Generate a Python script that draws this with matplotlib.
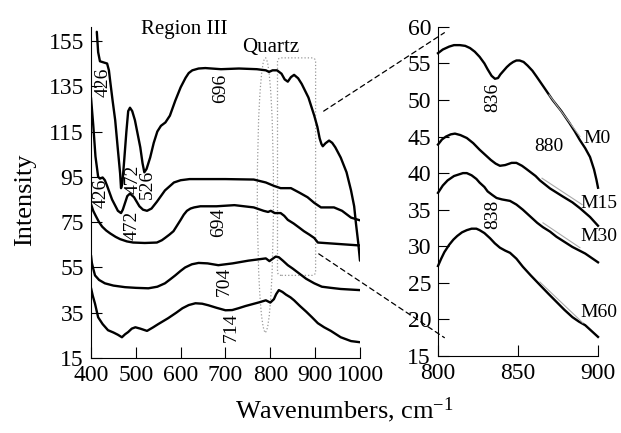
import matplotlib
matplotlib.use("Agg")
import matplotlib.pyplot as plt
from matplotlib.patches import Ellipse, FancyBboxPatch, ConnectionPatch

plt.rcParams['font.family'] = ['Liberation Serif', 'DejaVu Serif']

# ---- data: left panel (400-1000 cm-1) ----
m0_x = [413, 416, 420, 428, 436, 440, 443, 448, 454, 460, 465, 467, 470, 474, 479, 483,
        487, 492, 498, 504, 510, 515, 519, 524, 532, 540, 548, 556, 566, 576, 588, 600,
        611, 618, 626, 640, 655, 690, 730, 770, 790, 797, 805, 815, 825, 832, 839, 846,
        853, 862, 870, 885, 898, 905, 910, 914, 917, 923, 931, 938, 945, 957, 970, 980,
        987, 991, 996, 1000]
m0_y = [159, 150, 146, 145.5, 145, 142, 137, 129, 120, 107, 96.5, 90, 92, 102, 115, 124,
        125.5, 124, 120, 114, 108, 101, 97, 98.5, 103.5, 110, 115, 117.5, 119, 122, 128.6, 134.5,
        138.7, 140.8, 142, 142.8, 143, 142.5, 142.8, 142.5, 142, 141.3, 142, 142, 140.5, 138, 137, 139,
        140, 138.5, 136, 130, 122, 117, 112, 109.5, 108.5, 109.8, 111, 110, 108, 103.5, 97, 89,
        82, 74.4, 66, 58]

m15_x = [400, 405, 410, 416, 420, 426, 431, 436, 447, 460, 467, 471, 476, 481, 487, 496,
         508, 516, 525, 535, 547, 565, 585, 600, 620, 640, 700, 763, 790, 808, 823, 846,
         865, 883, 898, 913, 942, 960, 980, 1000]
m15_y = [130, 118, 104, 95, 94.2, 94.7, 93.5, 91, 85, 80, 79, 80.5, 83.5, 86.5, 87.6, 86,
         82, 80.5, 80, 81, 84, 89, 92.5, 93.5, 94, 94, 94, 93.8, 92.5, 91, 90, 90,
         88, 86, 83.5, 81.5, 81.5, 80, 77, 75.8]

m30_x = [400, 405, 410, 418, 425, 434, 443, 455, 465, 480, 494, 520, 547, 558, 565, 575,
         584, 592, 600, 607, 614, 622, 630, 644, 680, 720, 763, 785, 795, 801, 810, 823,
         831, 839, 852, 865, 875, 887, 898, 906, 942, 1000]
m30_y = [83, 80, 78, 75, 73, 71.3, 70, 68.5, 67.5, 66.5, 66, 65.8, 66, 67, 68, 69.5,
         71, 73.5, 76, 78.3, 80, 81, 81.5, 82, 82, 82.5, 81.5, 80, 79.5, 80, 79, 79,
         77.8, 76, 74.4, 72.5, 71, 69.5, 68, 66, 65.5, 64.7]

m45_x = [400, 402, 405, 409, 418, 431, 450, 476, 500, 528, 548, 565, 577, 588, 600, 610,
         625, 640, 660, 684, 716, 751, 790, 798, 805, 812, 819, 828, 839, 850, 860, 870,
         880, 898, 915, 935, 957, 1000]
m45_y = [60.4, 57, 54.5, 51.5, 49.5, 48, 47, 46.3, 46, 45.8, 46.5, 48, 49.8, 51.5, 53.5, 55,
         56.4, 57, 56.8, 56, 56.8, 58, 59, 57.8, 58.8, 59.8, 59.5, 58, 56, 54.5, 53, 51.5,
         50, 48, 46.5, 46, 45.5, 45]

m60_x = [400, 404, 409, 416, 426, 438, 450, 460, 469, 476, 483, 491, 499, 510, 525, 538,
         550, 572, 590, 604, 618, 633, 648, 662, 680, 700, 715, 729, 745, 760, 775, 790,
         800, 808, 813, 819, 827, 835, 845, 853, 866, 880, 893, 906, 920, 935, 957, 980, 1000]
m60_y = [46, 42.5, 39, 33, 30, 27.3, 26.3, 25.3, 24.2, 25.5, 26.5, 28, 28.6, 28, 27, 28.5,
         30, 32.6, 35, 37, 38.4, 39.2, 39, 38.3, 37.2, 36.1, 36.2, 37, 38, 38.8, 39.6, 40.5,
         39.5, 41, 43.2, 45, 44.2, 43, 41.8, 40.5, 38, 35.5, 33, 30.4, 28.6, 27, 24.2, 22.5, 22]

left_labels = ["426", "696", "426", "472", "526", "472", "694", "704", "714"]
left_lab_x = [427, 689, 422, 494, 525, 492, 684, 698, 713]
left_lab_y = [136.5, 134, 87.6, 94, 91.6, 73.6, 75, 49, 28.6]

# ---- data: right panel (800-900 cm-1) ----
r_m0_x = [800, 803, 807, 810, 813.7, 817, 820, 823, 826, 829, 831, 833.5, 835.6, 837.5,
          839, 841, 843, 845, 847, 849, 851, 853.5, 856, 859, 861.6, 866, 871.6, 877, 882,
          885.5, 888.7, 892, 895, 897.5, 899, 900]
r_m0_y = [56.4, 56.9, 57.3, 57.5, 57.5, 57.4, 57.1, 56.6, 55.9, 55.0, 54.2, 53.3, 52.9, 53.0,
          53.5, 54.0, 54.5, 54.9, 55.2, 55.4, 55.4, 55.2, 54.7, 54.0, 53.2, 51.8, 50, 48.5, 46.9,
          45.7, 44.5, 43.4, 42.2, 40.5, 39.1, 38]
r_m15_x = [800, 802.5, 805, 808, 810.6, 814, 818, 822, 826, 830, 833, 836, 838.7, 842,
           846, 849, 852.5, 855, 858, 861, 863.7, 870, 878, 884, 888.7, 895, 900]
r_m15_y = [43.9, 44.6, 45, 45.3, 45.4, 45.2, 44.8, 44.1, 43.2, 42.4, 41.8, 41.3, 41, 41.1,
           41.4, 41.4, 41, 40.6, 40.1, 39.6, 39, 37.9, 36.8, 36, 35.2, 34, 32.8]
r_m30_x = [800, 803, 806, 810, 815.6, 818, 821, 824, 826, 829, 831, 834, 836.6, 840,
           845, 849, 853, 856, 859, 862, 865.6, 870, 874, 879, 884, 892, 900]
r_m30_y = [37.3, 38.3, 39, 39.6, 40, 40, 39.7, 39.2, 38.7, 38.1, 37.5, 37, 36.6, 36.4,
           36.2, 35.7, 35, 34.4, 33.8, 33.2, 32.6, 32, 31.3, 30.6, 29.9, 29, 27.8]
r_m60_x = [800, 802, 804, 807, 809.6, 812, 815, 818, 821, 824, 826, 829, 832.5, 835.5,
           838.7, 842, 845, 849, 853, 858, 863.7, 869, 874, 879, 884, 888, 892, 896, 900]
r_m60_y = [27.3, 28.3, 29.2, 30.2, 30.9, 31.4, 31.9, 32.2, 32.4, 32.4, 32.2, 31.8, 31.1, 30.4,
           29.8, 29.4, 29.1, 28.3, 27.2, 26, 24.7, 23.5, 22.4, 21.3, 20.3, 19.7, 19.2, 18.4, 17.6]

# thin grey fitted segments
fit_x = [[869.4, 888.7], [865, 890], [865.6, 888.7], [863.7, 890.6]]
fit_y = [[50.7, 45.0], [39.3, 35.7], [33.2, 29.8], [25.1, 19.5]]

right_labels = ["836", "838"]
right_lab_x = [834, 834]
right_lab_y = [50.4, 34.4]
sample_names = ["M0", "M15", "M30", "M60"]
sample_lab_x = [891, 889, 889, 889]
sample_lab_y = [44.7, 35.9, 31.3, 20.9]

fig = plt.figure(figsize=(6.21, 4.33), dpi=100)
ax1 = fig.add_axes([0.1465, 0.173, 0.4332, 0.764])
ax2 = fig.add_axes([0.7053, 0.178, 0.2577, 0.76])

for xs, ys in [(m0_x, m0_y), (m15_x, m15_y), (m30_x, m30_y), (m45_x, m45_y), (m60_x, m60_y)]:
    ax1.plot(xs, ys, color='black', lw=1.7, solid_joinstyle='round', solid_capstyle='round')

ax1.set_xlim(400, 1000)
ax1.set_ylim(15, 161)
ax1.set_xticks(range(400, 1001, 100))
ax1.set_yticks(range(15, 156, 20))
for s in ['top', 'right']:
    ax1.spines[s].set_visible(False)

for t, x, y in zip(left_labels, left_lab_x, left_lab_y):
    ax1.text(x, y, t, rotation=90, ha='center', va='center', fontsize=14)
ax1.text(608, 160, "Region III", ha='center', va='center', fontsize=15)
ax1.text(801, 152, "Quartz", ha='center', va='center', fontsize=15)

# quartz marks
ax1.add_patch(Ellipse((789, 87), 36, 121, fill=False, ec='#999999', lw=0.9, ls=':'))
ax1.add_patch(FancyBboxPatch((816, 51.5), 85, 96,
                             boxstyle="round,pad=0,rounding_size=9",
                             mutation_aspect=0.197, fill=False,
                             ec='#999999', lw=0.9, ls=':'))

for xs, ys in [(r_m0_x, r_m0_y), (r_m15_x, r_m15_y), (r_m30_x, r_m30_y), (r_m60_x, r_m60_y)]:
    ax2.plot(xs, ys, color='black', lw=1.7, solid_joinstyle='round', clip_on=False)
for xs, ys in zip(fit_x, fit_y):
    ax2.plot(xs, ys, color='#aaaaaa', lw=0.8)

ax2.set_xlim(800, 900)
ax2.set_ylim(15, 60)
ax2.set_xticks([800, 850, 900])
ax2.set_yticks(range(15, 61, 5))
for s in ['top', 'right']:
    ax2.spines[s].set_visible(False)

for t, x, y in zip(right_labels, right_lab_x, right_lab_y):
    ax2.text(x, y, t, rotation=90, ha='center', va='center', fontsize=14)
ax2.text(869, 43.7, "880", ha='center', va='center', fontsize=14)
for t, x, y in zip(sample_names, sample_lab_x, sample_lab_y):
    ax2.text(x, y, t, ha='left', va='center', fontsize=14)

for ax in (ax1, ax2):
    ax.tick_params(direction='in', length=8, width=0.8, labelsize=17, pad=5)
    for s in ['left', 'bottom']:
        ax.spines[s].set_linewidth(0.8)

# zoom connectors
for (xa, ya), (xb, yb) in [((919, 124), (804, 59.2)), ((908, 61), (804, 17.5))]:
    con = ConnectionPatch(xyA=(xa, ya), coordsA=ax1.transData,
                          xyB=(xb, yb), coordsB=ax2.transData,
                          color='black', lw=0.9, ls=(0, (4, 3)))
    fig.add_artist(con)

fig.text(344 / 621, 1 - 410 / 433, r'Wavenumbers, cm$\mathregular{^{-1}}$',
         ha='center', va='center', fontsize=19)
fig.text(25 / 621, 1 - 200 / 433, 'Intensity', rotation=90,
         ha='center', va='center', fontsize=19)

fig.savefig('out.png', dpi=100)
